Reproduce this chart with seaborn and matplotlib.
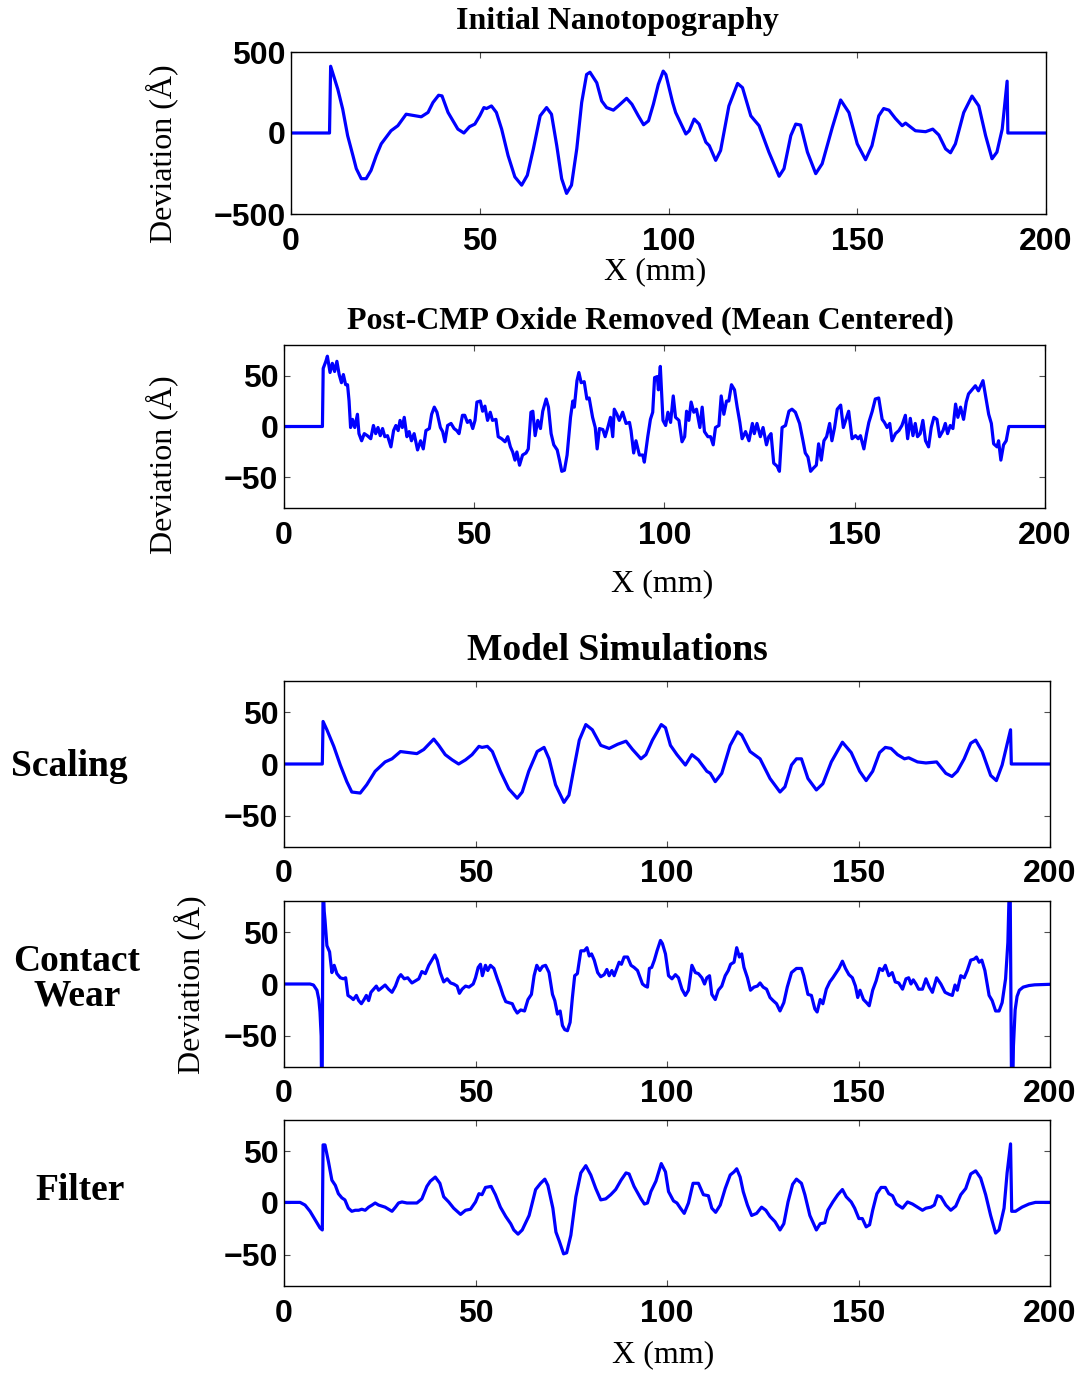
import matplotlib
matplotlib.use("Agg")
import matplotlib.pyplot as plt
import seaborn as sns
import numpy as np

sns.set_theme(style="ticks")
plt.rcParams['font.family'] = ['Liberation Sans', 'DejaVu Sans']
plt.rcParams['text.color'] = 'black'
plt.rcParams['axes.labelcolor'] = 'black'
plt.rcParams['xtick.color'] = 'black'
plt.rcParams['ytick.color'] = 'black'
plt.rcParams['axes.edgecolor'] = 'black'

# ---------------- data ----------------
initial_x = [0, 10.2, 10.5, 12.4, 13.7, 15.0, 16.4, 17.3, 18.6, 19.9, 21.2, 22.6, 23.9, 26.5, 28.3, 30.5,
             34.5, 36.3, 37.6, 39.1, 40.0, 41.6, 44.2, 45.8, 47.3, 48.7, 50.0, 51.1, 51.8, 53.1, 54.4,
             55.8, 57.5, 59.3, 61.1, 62.6, 64.2, 66.0, 67.7, 69.0, 70.4, 71.7, 73.0, 74.3, 75.7, 77.0,
             78.3, 79.2, 81.0, 82.3, 83.6, 85.4, 86.7, 88.9, 90.3, 92.0, 93.4, 94.7, 96.0, 97.3, 98.6,
             99.3, 101.1, 101.9, 104.6, 105.5, 106.8, 108.1, 109.9, 110.8, 112.5, 113.8, 116.0, 118.3,
             119.6, 121.8, 124.0, 126.6, 129.3, 130.6, 132.4, 133.7, 135.0, 136.8, 139.0, 140.7, 143.4,
             145.6, 147.8, 150.0, 152.2, 153.9, 155.7, 157.0, 158.4, 160.1, 161.9, 162.8, 165.4, 168.1,
             170.0, 171.6, 173.4, 174.7, 176.0, 178.2, 180.4, 182.2, 184.0, 185.7, 187.0, 188.4, 189.7,
             189.9, 200]
initial_y = [0, 0, 412, 270, 147, -16, -139, -220, -282, -282, -231, -139, -67, 14, 45, 116,
             100, 127, 188, 233, 229, 127, 24, 0, 39, 55, 106, 157, 151, 167, 127,
             24, -139, -271, -322, -261, -98, 106, 157, 116, -78, -282, -373, -322, -98, 188,
             361, 375, 310, 198, 157, 141, 167, 214, 178, 106, 51, 75, 178, 300, 382,
             361, 188, 126, -6, 14, 86, 55, -57, -78, -169, -108, 167, 306,
             280, 106, 45, -118, -267, -220, -16, 55, 49, -118, -251, -190, 35,
             204, 126, -67, -165, -78, 106, 151, 141, 90, 45, 61, 14, 8,
             24, -12, -98, -122, -67, 126, 228, 167, -16, -159, -118, 24, 320,
             0, 0]

cmp_x = [0, 10.1, 10.3, 11.0, 11.4, 12.1, 12.7, 13.3, 13.9, 14.5, 15.1, 15.6, 16.2, 16.7, 17.1, 17.5,
         18.0, 18.6, 19.3, 19.7, 20.4, 21.1, 21.9, 22.8, 23.5, 24.1, 24.7, 25.3, 25.9, 26.5, 27.2,
         28.1, 28.8, 29.4, 30.0, 30.5, 31.1, 31.6, 32.3, 32.9, 33.5, 34.2, 35.1, 35.9, 36.6, 37.3,
         38.2, 38.8, 39.5, 40.2, 41.1, 41.7, 42.3, 43.0, 43.9, 44.7, 45.4, 46.0, 46.9, 47.5, 48.2,
         48.9, 49.6, 50.2, 50.7, 51.6, 52.2, 52.8, 53.5, 54.2, 54.8, 55.7, 56.3, 57.2, 58.1, 58.8,
         59.5, 60.1, 60.7, 61.2, 61.9, 62.7, 63.6, 64.2, 64.9, 65.4, 66.0, 66.7, 67.4, 68.0, 68.9,
         69.5, 70.2, 70.9, 71.8, 72.4, 73.0, 73.7, 74.4, 75.3, 75.9, 76.3, 77.0, 77.5, 78.1, 78.9,
         79.6, 80.2, 81.1, 81.8, 82.3, 82.9, 83.8, 84.4, 85.1, 85.8, 86.4, 86.8, 87.5, 88.1, 89.0,
         89.9, 90.8, 91.2, 91.9, 92.5, 93.4, 94.3, 94.7, 95.6, 96.3, 96.9, 97.4, 98.1, 98.4, 98.9,
         99.6, 100.3, 100.9, 101.6, 102.3, 102.9, 103.8, 104.6, 105.3, 105.8, 106.4, 107.0, 107.7,
         108.4, 109.3, 109.9, 110.5, 111.4, 112.1, 112.8, 113.4, 114.3, 114.9, 115.6, 116.3, 116.9,
         117.6, 118.4, 119.1, 119.8, 120.4, 121.3, 122.2, 123.1, 123.6, 124.3, 125.2, 125.9, 126.8,
         127.4, 128.0, 128.7, 129.6, 130.2, 130.9, 131.8, 132.7, 133.5, 134.4, 135.5, 136.4, 137.0,
         137.7, 138.4, 139.1, 139.9, 140.5, 141.2, 141.9, 142.6, 143.4, 144.0, 144.7, 145.4, 146.3,
         147.0, 147.6, 148.4, 149.3, 150.2, 150.9, 151.5, 152.4, 153.1, 153.7, 154.6, 155.4, 156.3,
         157.2, 157.8, 158.5, 159.2, 159.8, 160.7, 161.6, 162.4, 163.3, 163.9, 164.6, 165.3, 165.9,
         166.5, 167.2, 167.9, 168.6, 169.4, 170.1, 170.8, 171.6, 172.3, 173.2, 173.8, 174.4, 175.1,
         175.8, 176.5, 177.1, 177.8, 178.6, 179.3, 179.9, 180.8, 181.7, 182.5, 183.1, 183.7, 184.3,
         185.2, 185.9, 186.5, 187.4, 187.8, 188.4, 189.1, 189.8, 190.5, 200]
cmp_y = [0, 0, 57, 64, 69, 53, 62, 54, 64, 51, 43, 51, 41, 41, 25, -1,
         7, -1, 12, -7, -14, -7, -9, -12, 1, -7, -1, -9, -2, -10, -9,
         -20, -4, 1, -4, 6, -1, 9, -10, -5, -14, -7, -23, -14, -22, -4,
         -2, 12, 19, 14, -1, -5, -15, 1, 3, -2, -4, -7, 11, 11, 4,
         6, -2, 6, 24, 25, 15, 20, 6, 14, 6, 7, -10, -12, -15, -10,
         -20, -25, -33, -25, -38, -28, -26, -22, 14, 15, -9, 6, -2, 15, 27,
         19, -7, -18, -23, -33, -44, -43, -28, 9, 25, 19, 45, 53, 43, 44,
         27, 28, 9, -1, -22, -2, -3, -10, -1, 9, -10, 17, 12, 6, 14,
         3, 4, -4, -26, -14, -28, -28, -35, -10, 7, 14, 48, 49, 36, 59,
         6, 1, 14, 4, 30, 9, 6, -15, -10, 15, 6, 24, 14,
         17, -1, 19, -5, -10, -10, -18, -1, 1, 30, 12, 25, 25,
         41, 36, 19, 4, -12, -5, -14, 3, -7, 3, -10, -1, -18,
         -10, -7, -36, -39, -44, -1, 1, 15, 17, 14, 3, -14, -26,
         -30, -44, -41, -38, -17, -33, -14, -10, 3, -14, -1, 17, 21,
         -1, 6, 15, -12, -9, -12, -9, -22, -7, 4, 15, 27, 28,
         7, 4, -1, 3, -14, -7, -4, 1, 11, -12, 8, -9, 3,
         -10, -7, 6, -14, -20, -1, 9, 7, -10, -4, 3, -7, 1,
         -2, 22, 9, 19, 7, 24, 32, 36, 40, 35, 40, 45, 32,
         12, 3, -17, -20, -14, -33, -18, -14, 0, 0]

scaling_x = [0, 10.0, 10.2, 11.2, 13.0, 14.7, 16.4, 17.7, 19.9, 21.6, 23.8, 26.4, 28.2, 30.4, 34.7,
             36.5, 39.1, 40.4, 42.1, 43.9, 45.6, 47.4, 49.1, 50.9, 51.7, 53.1, 54.4, 56.5, 58.7,
             60.9, 62.2, 63.9, 66.1, 67.9, 69.2, 70.9, 73.1, 74.4, 75.7, 77.1, 78.8, 80.5, 82.7,
             84.9, 87.1, 89.3, 91.0, 93.2, 94.5, 96.2, 98.5, 99.6, 100.9, 102.6, 104.8, 106.5,
             108.2, 110.4, 111.3, 112.6, 114.3, 116.5, 118.4, 119.5, 121.7, 124.3, 126.9, 129.5,
             130.8, 132.5, 133.8, 135.1, 136.8, 139.0, 140.7, 142.9, 145.8, 148.1, 150.3, 152.0,
             153.7, 155.5, 157.0, 158.5, 160.2, 162.0, 163.1, 165.4, 167.6, 170.4, 172.8, 174.4,
             175.8, 177.6, 179.3, 180.6, 182.3, 184.5, 186.0, 187.5, 189.7, 189.9, 200]
scaling_y = [0, 0, 41, 33, 17, -1, -17, -27, -28, -20, -7, 2, 5, 12, 10,
             14, 24, 18, 9, 4, 0, 4, 9, 17, 16, 17, 12, -7, -24,
             -33, -27, -7, 12, 16, 5, -20, -37, -30, -4, 23, 38, 33, 18,
             15, 19, 22, 14, 5, 9, 23, 38, 35, 18, 9, -1, 9,
             4, -7, -9, -17, -9, 18, 31, 28, 12, 5, -14, -27,
             -22, -1, 5, 5, -14, -25, -19, 2, 21, 11, -7, -16,
             -7, 11, 16, 15, 9, 5, 6, 2, 1, 2, -9, -12,
             -7, 5, 20, 23, 12, -11, -16, -1, 33, 0, 0]

wear_x = [0, 6.8, 7.7, 8.6, 9.1, 9.4, 9.7, 9.9, 10.2, 10.5, 10.7, 11.2, 11.9, 12.5, 13.1, 13.8, 14.7,
          15.5, 16.1, 16.7, 17.5, 18.1, 18.9, 19.5, 20.2, 20.9, 21.5, 22.1, 22.7, 23.4, 24.1, 24.7,
          25.4, 26.4, 27.3, 28.2, 29.1, 29.9, 30.5, 31.4, 32.3, 33.4, 34.3, 35.2, 36.0, 36.9, 37.8,
          38.6, 39.4, 40.0, 40.8, 41.7, 42.6, 43.5, 44.3, 45.2, 45.8, 46.5, 47.4, 48.3, 49.4, 50.0,
          50.7, 51.3, 51.8, 52.6, 53.2, 53.9, 54.8, 55.7, 56.5, 57.2, 57.9, 58.7, 59.6, 60.2, 60.9,
          61.8, 62.8, 63.7, 64.6, 65.3, 66.0, 66.8, 67.5, 68.3, 69.2, 70.1, 70.7, 71.4, 72.1, 72.7,
          73.3, 74.0, 74.7, 75.3, 75.9, 76.6, 77.5, 78.4, 79.1, 79.7, 80.3, 81.0, 81.9, 82.7, 83.6,
          84.3, 84.9, 85.6, 86.2, 86.9, 87.5, 88.1, 88.8, 89.7, 90.6, 91.4, 92.3, 93.0, 93.6, 94.3,
          94.9, 95.4, 96.0, 96.7, 97.4, 98.3, 98.8, 99.6, 100.4, 101.3, 102.2, 103.0, 103.9, 104.8,
          105.6, 106.5, 107.4, 108.2, 109.1, 109.8, 110.4, 111.1, 111.7, 112.6, 113.4, 114.3, 115.2,
          116.0, 116.6, 117.5, 118.2, 118.9, 119.5, 120.1, 121.0, 121.8, 122.7, 123.6, 124.3, 125.1,
          126.0, 126.9, 127.7, 128.6, 129.5, 130.5, 131.4, 132.5, 133.8, 135.1, 135.7, 136.8, 137.7,
          138.6, 139.2, 140.0, 140.7, 141.6, 142.5, 143.3, 144.0, 144.9, 145.8, 146.6, 147.5, 148.4,
          149.2, 149.8, 150.4, 151.3, 152.1, 152.8, 153.7, 154.6, 155.5, 156.3, 157.0, 157.9, 158.8,
          159.6, 160.5, 161.5, 162.4, 163.1, 163.7, 164.3, 165.0, 165.7, 166.7, 167.6, 168.5, 169.3,
          170.4, 171.5, 172.6, 173.7, 174.5, 175.2, 175.8, 176.7, 177.6, 178.4, 179.3, 180.2, 180.8,
          181.5, 182.2, 183.0, 184.1, 184.9, 185.8, 186.7, 187.5, 188.4, 189.0, 189.55, 190.05,
          190.45, 190.9, 191.4, 192.0, 193.0, 194.5, 196.0, 200]
wear_y = [0, 0, -1, -6, -15, -27, -50, -150, 100, 70, 62, 37, 31, 11, 18, 10, 6,
          5, 6, -11, -13, -15, -11, -16, -19, -15, -11, -16, -8, -5, -2, -6,
          -4, -1, -5, -8, -2, 6, 9, 5, 6, 1, 3, 5, 12, 10, 18,
          23, 28, 23, 11, 2, 5, 1, 0, -2, -9, -5, -2, -3, 0, 6,
          16, 19, 8, 18, 13, 18, 15, 5, -3, -11, -17, -18, -19, -24, -28,
          -25, -26, -15, -10, 8, 18, 13, 17, 18, 11, -10, -16, -29, -26, -40,
          -44, -45, -37, -13, 8, 10, 32, 32, 35, 27, 29, 23, 11, 7, 9,
          14, 8, 13, 8, 15, 21, 19, 26, 26, 18, 16, 13, 6, 0, -2,
          -3, 15, 16, 23, 32, 42, 39, 29, 8, 5, 9, 6, -5, -11,
          -6, 18, 11, 10, 6, 0, 6, 8, -10, -15, -6, -2, 8,
          13, 19, 21, 35, 26, 29, 16, 6, -6, -3, -2, 1, -3,
          -5, -13, -16, -19, -26, -18, -3, 11, 15, 15, 8, -10, -11,
          -24, -27, -15, -19, -5, 2, 6, 10, 15, 22, 15, 9, 6,
          -2, -13, -6, -15, -18, -21, -6, 3, 15, 13, 18, 8, 11,
          2, 1, -5, 5, 6, 0, 4, 0, -5, -5, 5, -3, -8,
          6, 0, -8, -10, -11, -1, -6, 8, 6, 13, 23, 24, 26,
          21, 23, 13, -11, -16, -26, -26, -18, 5, 40, 120, -150,
          -60, -25, -12, -6, -3, -1.5, -0.8, -0.3]

filter_x = [0, 4.2, 5.5, 6.8, 8.1, 9.4, 10.0, 10.2, 10.7, 11.6, 12.5, 13.4, 14.2, 15.1, 15.9, 16.8,
            17.7, 18.6, 19.5, 20.3, 21.2, 22.1, 23.0, 23.8, 24.7, 25.6, 26.4, 27.3, 28.2, 29.1,
            29.9, 30.8, 32.1, 33.4, 34.7, 36.0, 37.3, 38.2, 39.5, 40.7, 41.7, 43.0, 44.3, 45.2,
            46.1, 47.4, 48.7, 50.0, 50.9, 51.7, 52.6, 54.1, 55.2, 56.5, 57.9, 59.2, 60.0, 61.1,
            62.2, 64.0, 65.7, 67.0, 68.1, 68.9, 70.2, 71.0, 71.9, 73.0, 73.8, 74.9, 76.2, 77.5,
            78.8, 80.1, 81.4, 82.7, 84.0, 85.3, 86.6, 88.0, 89.3, 90.1, 91.4, 93.2, 94.1, 94.9,
            95.8, 97.1, 98.5, 99.6, 100.4, 101.7, 102.6, 103.5, 104.5, 105.6, 106.8, 108.2, 109.5,
            110.8, 111.7, 112.7, 113.9, 115.2, 116.5, 117.5, 118.2, 119.1, 119.9, 121.0, 122.1,
            123.4, 124.7, 125.8, 126.9, 128.2, 129.5, 130.5, 131.6, 132.8, 133.8, 135.1, 136.0,
            137.3, 139.0, 140.0, 141.2, 142.0, 143.3, 144.6, 145.8, 146.8, 148.1, 149.0, 150.1,
            151.0, 152.0, 152.9, 153.7, 154.8, 155.9, 157.0, 157.9, 158.9, 159.9, 161.5, 162.8,
            164.1, 165.4, 166.7, 167.6, 168.9, 169.8, 170.6, 171.5, 172.8, 174.1, 175.4, 176.7,
            178.0, 179.3, 180.6, 181.9, 183.2, 184.5, 185.8, 186.7, 188.0, 188.8, 189.7, 190.0,
            191.0, 192.7, 194.5, 196.2, 200]
filter_y = [0.6, 0.6, -2, -8, -16, -24, -26, 56, 56, 40, 22, 17, 9, 5, 3, -5,
            -8, -7, -7, -6, -7, -4, -2, 0, -2, -3, -4, -6, -8, -4,
            0, 1, 0, 0, 0, 4, 16, 21, 25, 19, 6, 1, -5, -8,
            -11, -7, -6, 1, 9, 8, 15, 16, 8, -4, -13, -20, -26, -30,
            -26, -12, 13, 19, 23, 17, -5, -28, -37, -49, -48, -31, 6, 29,
            36, 27, 14, 3, 4, 8, 13, 22, 29, 28, 16, 4, -1, 0,
            11, 21, 38, 30, 11, 2, 0, -5, -10, 0, 19, 19, 8,
            7, -5, -9, -2, 14, 27, 30, 33, 25, 11, -2, -12,
            -10, -4, -7, -13, -18, -26, -20, 1, 18, 23, 19, 8,
            -12, -26, -20, -19, -7, 1, 8, 13, 6, 1, -5, -15,
            -15, -23, -21, -7, 9, 15, 15, 9, 7, -1, -5, 1,
            -1, -4, -7, -5, -4, -2, 7, 6, -2, -7, -3, 8,
            14, 28, 31, 24, 8, -12, -29, -26, -5, 29, 57, -8,
            -8, -4, -1, 0.6, 0.6]

xticks = [0, 50, 100, 150, 200]

# ---------------- figure ----------------
W, H = 1083, 1373
fig = plt.figure(figsize=(W / 100, H / 100), dpi=100)

def rect(l, r, t, b):
    return [l / W, 1 - b / H, (r - l) / W, (b - t) / H]

tick_font = dict(family='Liberation Sans', weight='bold', size=23, color='black')
serif = 'Liberation Serif'

panels = [
    (initial_x, initial_y, rect(291, 1046, 52, 214), (-500, 500), [-500, 0, 500]),
    (cmp_x, cmp_y, rect(284, 1045, 345, 508), (-80, 80), [-50, 0, 50]),
    (scaling_x, scaling_y, rect(284, 1050, 681, 847), (-80, 80), [-50, 0, 50]),
    (wear_x, wear_y, rect(284, 1050, 901, 1067), (-80, 80), [-50, 0, 50]),
    (filter_x, filter_y, rect(284, 1050, 1120, 1286), (-80, 80), [-50, 0, 50]),
]

for xs, ys, r, ylim, yt in panels:
    ax = fig.add_axes(r)
    sns.lineplot(x=xs, y=ys, ax=ax, color=(0, 0, 1), linewidth=2.3, estimator=None, sort=False)
    ax.set_xlim(0, 200)
    ax.set_ylim(*ylim)
    ax.set_xticks(xticks)
    ax.set_yticks(yt)
    ax.set_xticklabels([str(v) for v in xticks], fontdict=tick_font)
    ax.set_yticklabels([str(v).replace('-', '\u2212') for v in yt], fontdict=tick_font)
    ax.tick_params(axis='both', direction='in', length=4, width=0.8, color='0.3',
                   top=True, right=True)
    ax.tick_params(axis='x', pad=9)
    ax.tick_params(axis='y', pad=4)
    for s in ax.spines.values():
        s.set_visible(True)
        s.set_color('black')
        s.set_linewidth(1.0)
    ax.set_xlabel('')
    ax.set_ylabel('')

def ftext(x, y, s, **kw):
    fig.text(x / W, 1 - y / H, s, ha='center', va='center', family=serif, color='black', **kw)

ftext(617, 22, 'Initial Nanotopography', size=23, weight='bold')
ftext(650, 321, 'Post-CMP Oxide Removed (Mean Centered)', size=23, weight='bold')
ftext(617, 650, 'Model Simulations', size=27, weight='bold')

ftext(162, 154, 'Deviation (Å)', size=23, rotation=90)
ftext(162, 465, 'Deviation (Å)', size=23, rotation=90)
ftext(190, 985, 'Deviation (Å)', size=23, rotation=90)

ftext(655, 272, 'X (mm)', size=23)
ftext(662, 584, 'X (mm)', size=23)
ftext(663, 1355, 'X (mm)', size=23)

ftext(69, 767, 'Scaling', size=27, weight='bold')
ftext(77, 979, 'Contact\nWear', size=27, weight='bold', linespacing=1.0)
ftext(80, 1191, 'Filter', size=27, weight='bold')

fig.savefig('out.png', dpi=100)
